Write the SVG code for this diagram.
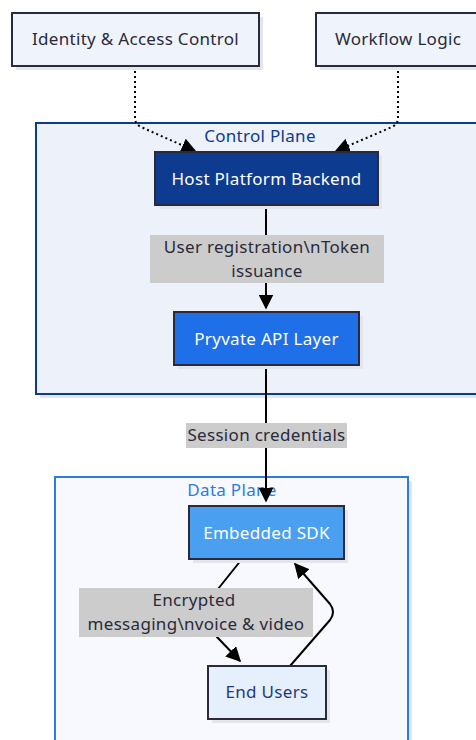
<svg xmlns="http://www.w3.org/2000/svg" width="476" height="740" viewBox="0 0 476 740">
  <defs>
    <marker id="arrowL" viewBox="0 0 10 10" refX="9" refY="5" markerWidth="15" markerHeight="15" markerUnits="userSpaceOnUse" orient="auto">
      <path d="M0,0 L10,5 L0,10 Z" fill="#000"/>
    </marker>
  </defs>
  <style>
    text { font-family: "Noto Sans", "Liberation Sans", sans-serif; font-size: 17px; letter-spacing: 0.3px; text-anchor: middle; dominant-baseline: central; }
    .shadow { fill: #e3e6ec; }
    .ext { fill: #eff3fb; stroke: #2a2a3a; stroke-width: 2; }
    .ext-t { fill: #2a2a3a; }
    .lbl { fill: #cccccc; }
    .lbl-t { fill: #2a2a3a; }
    .edge { fill: none; stroke: #000; stroke-width: 2; }
    .dot { stroke-dasharray: 2 3; }
  </style>

  <!-- clusters -->
  <g id="control-plane">
    <rect x="40" y="127" width="440" height="271" class="shadow"/>
    <rect x="36" y="123" width="444" height="271" fill="#edf1fa" stroke="#0d3b8c" stroke-width="2"/>
    <text x="260" y="135" fill="#0d3b8c">Control Plane</text>
  </g>
  <g id="data-plane">
    <rect x="59" y="481" width="353" height="270" class="shadow"/>
    <rect x="55" y="477" width="353" height="270" fill="#f7f9fe" stroke="#2d7be0" stroke-width="2"/>
    <text x="232" y="489" fill="#2d7be0">Data Plane</text>
  </g>

  <!-- connectors -->
  <g id="connectors">
    <path class="edge dot" d="M135,66 V118 Q135,124 141,127 L195,151" marker-end="url(#arrowL)"/>
    <path class="edge dot" d="M398,66 V118 Q398,124 392,127 L336,151" marker-end="url(#arrowL)"/>
    <path class="edge" d="M266,205 V308" marker-end="url(#arrowL)"/>
    <path class="edge" d="M266,365 V501" marker-end="url(#arrowL)"/>
    <path class="edge" d="M242,559 L218,589 L217,637 L240,661" marker-end="url(#arrowL)"/>
    <path class="edge" d="M290,666 L330,620 Q336,612 330,604 L295,564" marker-end="url(#arrowL)"/>
  </g>

  <!-- edge labels -->
  <g id="edge-labels">
    <rect x="150" y="235" width="234" height="48" class="lbl"/>
    <text x="267" y="246" class="lbl-t">User registration\nToken</text>
    <text x="267" y="270" class="lbl-t">issuance</text>
    <rect x="186" y="423" width="161" height="25" class="lbl"/>
    <text x="266.5" y="434.5" class="lbl-t">Session credentials</text>
    <rect x="79" y="588" width="234" height="49" class="lbl"/>
    <text x="194" y="599" class="lbl-t">Encrypted</text>
    <text x="196" y="623" class="lbl-t">messaging\nvoice &amp; video</text>
  </g>

  <!-- nodes -->
  <g id="identity">
    <rect x="16" y="17" width="247" height="53" class="shadow"/>
    <rect x="12" y="13" width="247" height="53" class="ext"/>
    <text x="135.5" y="38.5" class="ext-t">Identity &amp; Access Control</text>
  </g>
  <g id="workflow">
    <rect x="320" y="17" width="164" height="53" class="shadow"/>
    <rect x="316" y="13" width="164" height="53" class="ext"/>
    <text x="398" y="38.5" class="ext-t">Workflow Logic</text>
  </g>
  <g id="host-backend">
    <rect x="159" y="156" width="223" height="53" class="shadow"/>
    <rect x="155" y="152" width="223" height="53" fill="#0d3b8f" stroke="#2a2a3a" stroke-width="2"/>
    <text x="266.5" y="178" fill="#ffffff">Host Platform Backend</text>
  </g>
  <g id="api-layer">
    <rect x="178" y="316" width="185" height="53" class="shadow"/>
    <rect x="174" y="312" width="185" height="53" fill="#1e6fe8" stroke="#2a2a3a" stroke-width="2"/>
    <text x="266.5" y="338" fill="#ffffff">Pryvate API Layer</text>
  </g>
  <g id="embedded-sdk">
    <rect x="193" y="510" width="155" height="53" class="shadow"/>
    <rect x="189" y="506" width="155" height="53" fill="#4a9ff0" stroke="#2a2a3a" stroke-width="2"/>
    <text x="266.5" y="532" fill="#ffffff">Embedded SDK</text>
  </g>
  <g id="end-users">
    <rect x="212" y="670" width="118" height="53" class="shadow"/>
    <rect x="208" y="666" width="118" height="53" fill="#e6effc" stroke="#2a2a3a" stroke-width="2"/>
    <text x="267" y="691.5" fill="#1e3a80">End Users</text>
  </g>
</svg>
